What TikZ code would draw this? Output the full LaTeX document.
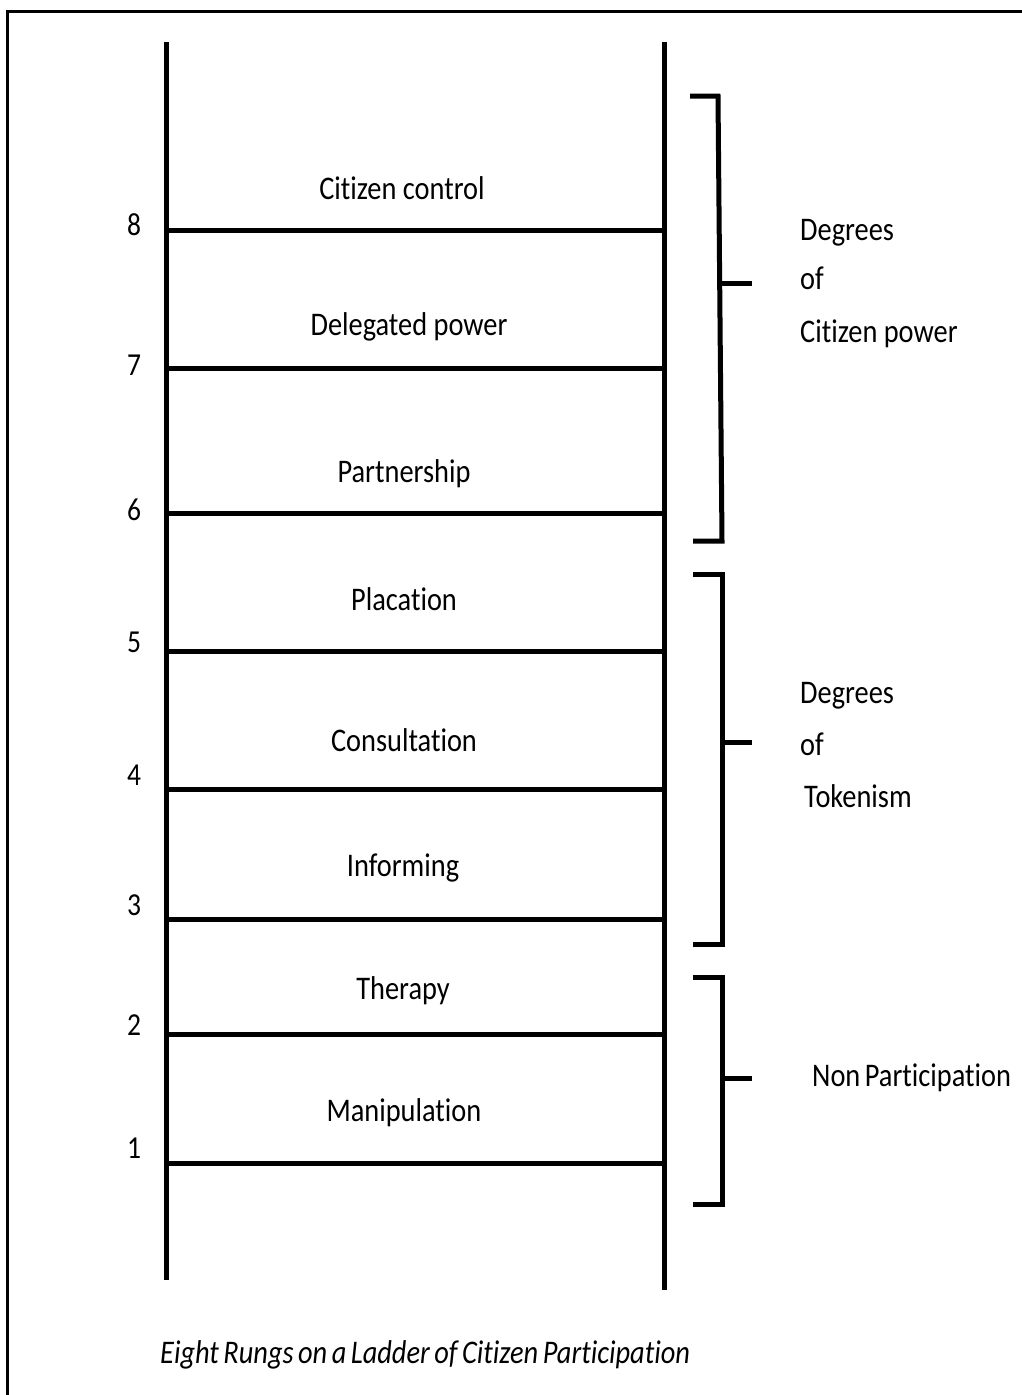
\documentclass[tikz,border=0pt]{standalone}
\usepackage{fontspec}
\setmainfont{Carlito}[FakeStretch=0.86,Ligatures=NoCommon]
\newfontfamily\tightfont{Carlito}[FakeStretch=0.86,Ligatures=NoCommon,WordSpace=0.55]
\newfontfamily\capfont{Carlito}[FakeStretch=0.86,Ligatures=NoCommon,WordSpace=0.7]
\begin{document}
\begin{tikzpicture}[x=1pt,y=-1pt,
  rail/.style={line width=5pt},
  rung/.style={line width=5pt},
  brk/.style={line width=5pt},
  frame/.style={line width=3pt},
  lbl/.style={inner sep=0pt,anchor=base,font=\fontsize{33}{36}\selectfont},
  num/.style={inner sep=0pt,anchor=base,font=\fontsize{32}{36}\selectfont},
  side/.style={inner sep=0pt,anchor=base west,font=\fontsize{33}{36}\selectfont},
  captext/.style={inner sep=0pt,anchor=base west,font=\capfont\itshape\fontsize{33}{36}\selectfont}]
\useasboundingbox (0,0) rectangle (1022,1395);
% frame
\coordinate (fTL) at (7,11);
\coordinate (fTR) at (1030,11);
\coordinate (fBL) at (7,1400);
\draw[frame] (fBL) -- (fTL) -- (fTR);
% rails
\coordinate (lTop) at (166,42);
\coordinate (lBot) at (166,1280);
\coordinate (rTop) at (664,42);
\coordinate (rBot) at (664,1290);
\draw[rail] (lTop) -- (lBot);
\draw[rail] (rTop) -- (rBot);
% rungs
\foreach \n/\y in {8/230,7/368,6/513,5/651,4/789,3/919,2/1034,1/1163}{
  \coordinate (rl\n) at (166,\y);
  \coordinate (rr\n) at (664,\y);
  \draw[rung] (rl\n) -- (rr\n);
}
% rung labels
\node[lbl] (t8) at (402,199) {Citizen control};
\node[lbl] (t7) at (409,335) {Delegated power};
\node[lbl] (t6) at (404,482) {Partnership};
\node[lbl] (t5) at (404,610) {Placation};
\node[lbl] (t4) at (404,751) {Consultation};
\node[lbl] (t3) at (403,876) {Informing};
\node[lbl] (t2) at (403,999) {Therapy};
\node[lbl] (t1) at (404,1121) {Manipulation};
% numbers
\node[num] (n8) at (134,235) {8};
\node[num] (n7) at (134,375) {7};
\node[num] (n6) at (134,520) {6};
\node[num] (n5) at (134,652) {5};
\node[num] (n4) at (134,785) {4};
\node[num] (n3) at (134,915) {3};
\node[num] (n2) at (134,1035) {2};
\node[num] (n1) at (134,1158) {1};
% brackets
\coordinate (b1a) at (690,96);
\coordinate (b1b) at (718,96);
\coordinate (b1c) at (722,541);
\coordinate (b1d) at (693,541);
\coordinate (b1m) at (720,283);
\coordinate (b1t) at (752,283);
\draw[brk] (b1a) -- (b1b) -- (b1c) -- (b1d);
\draw[brk] (b1m) -- (b1t);
\coordinate (b2a) at (693,574);
\coordinate (b2b) at (722,574);
\coordinate (b2c) at (722,944);
\coordinate (b2d) at (693,944);
\coordinate (b2m) at (722,742);
\coordinate (b2t) at (752,742);
\draw[brk] (b2a) -- (b2b) -- (b2c) -- (b2d);
\draw[brk] (b2m) -- (b2t);
\coordinate (b3a) at (693,977);
\coordinate (b3b) at (722,977);
\coordinate (b3c) at (722,1204);
\coordinate (b3d) at (693,1204);
\coordinate (b3m) at (722,1078);
\coordinate (b3t) at (752,1078);
\draw[brk] (b3a) -- (b3b) -- (b3c) -- (b3d);
\draw[brk] (b3m) -- (b3t);
% side texts
\node[side] (g1a) at (800,240) {Degrees};
\node[side] (g1b) at (800,289) {of};
\node[side] (g1c) at (800,342) {Citizen power};
\node[side] (g2a) at (800,703) {Degrees};
\node[side] (g2b) at (800,755) {of};
\node[side] (g2c) at (804,807) {Tokenism};
\node[side,font=\tightfont\fontsize{33}{36}\selectfont] (g3) at (812,1086) {Non Participation};
% caption
\node[captext] (caption) at (160,1363) {Eight Rungs on a Ladder of Citizen Participation};
\end{tikzpicture}
\end{document}
